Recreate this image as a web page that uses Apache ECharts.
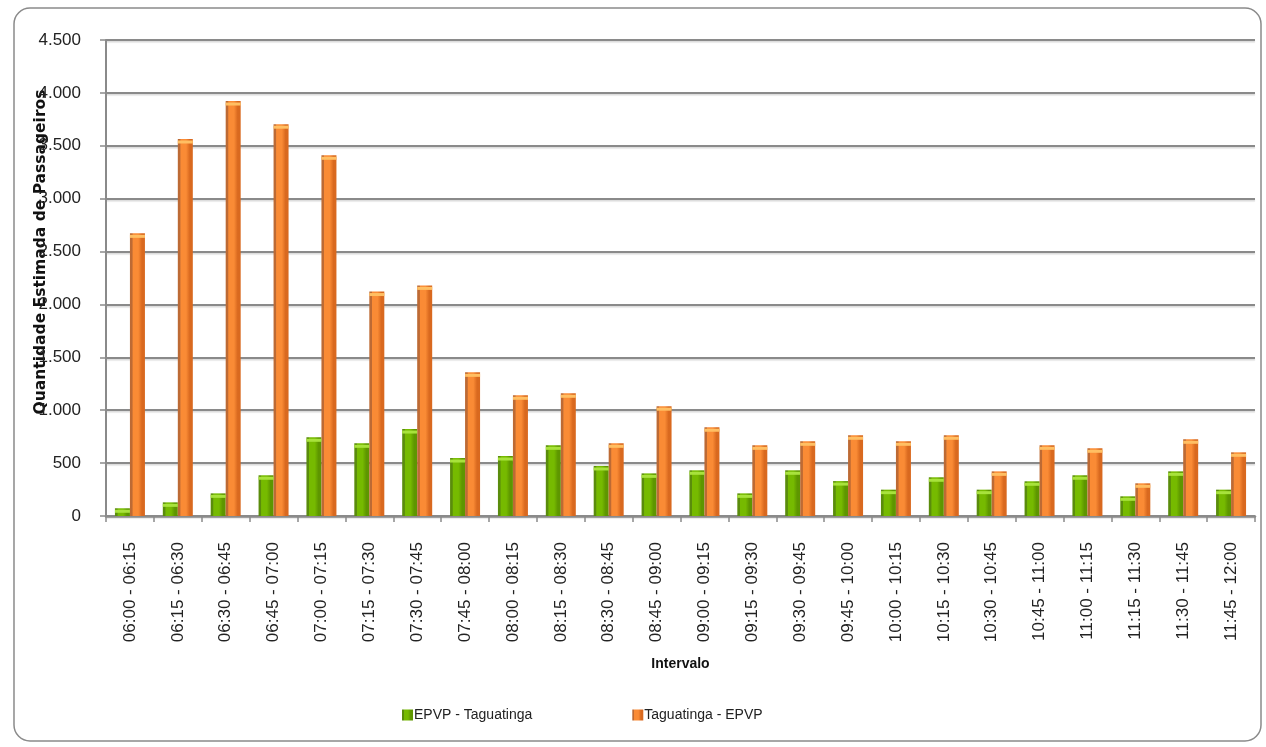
<!DOCTYPE html>
<html>
<head>
<meta charset="utf-8">
<script src="https://cdn.jsdelivr.net/npm/echarts@6/dist/echarts.min.js"></script>
<style>
  html, body { margin: 0; padding: 0; background: #fff; }
  #chart { width: 1266px; height: 747px; }
</style>
</head>
<body>
<div id="chart"></div>
<script>
const categories = [
    '06:00 - 06:15', '06:15 - 06:30', '06:30 - 06:45', '06:45 - 07:00',
    '07:00 - 07:15', '07:15 - 07:30', '07:30 - 07:45', '07:45 - 08:00',
    '08:00 - 08:15', '08:15 - 08:30', '08:30 - 08:45', '08:45 - 09:00',
    '09:00 - 09:15', '09:15 - 09:30', '09:30 - 09:45', '09:45 - 10:00',
    '10:00 - 10:15', '10:15 - 10:30', '10:30 - 10:45', '10:45 - 11:00',
    '11:00 - 11:15', '11:15 - 11:30', '11:30 - 11:45', '11:45 - 12:00'
]
const epvpTaguatinga = [
    73, 129, 214, 385, 744, 687, 822, 548, 567, 668, 473, 403,
    432, 214, 432, 330, 249, 366, 249, 328, 385, 186, 422, 249
]
const taguatingaEpvp = [
    2672, 3564, 3923, 3704, 3410, 2122, 2180, 1358, 1141, 1160, 687, 1038,
    839, 668, 706, 763, 706, 763, 422, 668, 640, 309, 725, 602
]
const yMax = 4500
const yStep = 500

const fmt = v => String(v).replace(/\B(?=(\d{3})+(?!\d))/g, '.')

const barGrad = (c1, c2, c3) => new echarts.graphic.LinearGradient(0, 0, 1, 0, [
    { offset: 0, color: c1 },
    { offset: 0.15, color: c1 },
    { offset: 0.2, color: c2 },
    { offset: 0.55, color: c2 },
    { offset: 0.8, color: c3 },
    { offset: 1, color: c3 }
])

const green = barGrad('#5a8c0c', '#76ba00', '#5e9600')
const orange = barGrad('#bd6a34', '#fa8b35', '#d9691f')

// light band on top of each bar, same values as the bars
const cap = (name, values, color) => ({
    name: name,
    type: 'pictorialBar',
    data: values,
    barWidth: 15,
    barGap: '0%',
    symbol: 'rect',
    symbolSize: ['100%', 3],
    symbolPosition: 'end',
    symbolOffset: [0, '50%'],
    itemStyle: { color: color },
    silent: true,
    z: 3
})

const chart = echarts.init(document.getElementById('chart'))
chart.setOption({
    animation: false,
    textStyle: { fontFamily: 'Liberation Sans', color: '#222' },
    graphic: [{
        type: 'rect',
        shape: { x: 14, y: 8, width: 1247, height: 733, r: 16 },
        style: { fill: 'none', stroke: '#8a8a8a', lineWidth: 1.5 },
        z: -1
    }],
    grid: { left: 106, right: 11, top: 40, bottom: 231 },
    legend: {
        data: ['EPVP - Taguatinga', 'Taguatinga - EPVP'],
        left: 397,
        top: 703,
        itemGap: 100,
        itemWidth: 11,
        itemHeight: 11,
        icon: 'rect',
        textStyle: { fontFamily: 'Liberation Sans', fontSize: 14, color: '#222', padding: [0, 0, 0, -4] }
    },
    xAxis: {
        type: 'category',
        data: categories,
        name: 'Intervalo',
        nameLocation: 'middle',
        nameGap: 141,
        nameMoveOverlap: false,
        nameTextStyle: { fontFamily: 'Liberation Sans', fontWeight: 'bold', fontSize: 14, color: '#111' },
        axisLine: { lineStyle: { color: '#8a8a8a', width: 2.5 } },
        axisTick: { show: true, length: 6, lineStyle: { color: '#8a8a8a', width: 1.5 } },
        axisLabel: { rotate: 90, margin: 26, fontSize: 17, color: '#222', interval: 0 }
    },
    yAxis: {
        type: 'value',
        min: 0,
        max: yMax,
        interval: yStep,
        name: 'Quantidade Estimada de Passageiros',
        nameLocation: 'middle',
        nameGap: 57,
        nameRotate: 90,
        nameMoveOverlap: false,
        nameTextStyle: {
            fontFamily: 'DejaVu Sans', fontWeight: 'bold', fontSize: 15.5, color: '#111',
            padding: [0, 0, 0, 52]
        },
        axisLine: { show: true, lineStyle: { color: '#8a8a8a', width: 2 } },
        axisTick: { show: true, length: 6, lineStyle: { color: '#8a8a8a', width: 1.5 } },
        axisLabel: { margin: 25, fontSize: 17, color: '#222', formatter: fmt },
        splitLine: { lineStyle: { color: '#8a8a8a', width: 2, shadowColor: 'rgba(0,0,0,0.15)', shadowOffsetY: 1.5, shadowBlur: 1 } }
    },
    series: [
        {
            name: 'EPVP - Taguatinga',
            type: 'bar',
            data: epvpTaguatinga,
            barWidth: 15,
            barGap: '0%',
            itemStyle: { color: green }
        },
        {
            name: 'Taguatinga - EPVP',
            type: 'bar',
            data: taguatingaEpvp,
            barWidth: 15,
            barGap: '0%',
            itemStyle: { color: orange }
        },
        cap('capGreen', epvpTaguatinga, '#a8e23c'),
        cap('capOrange', taguatingaEpvp, '#ffbf63')
    ]
})
</script>
</body>
</html>
